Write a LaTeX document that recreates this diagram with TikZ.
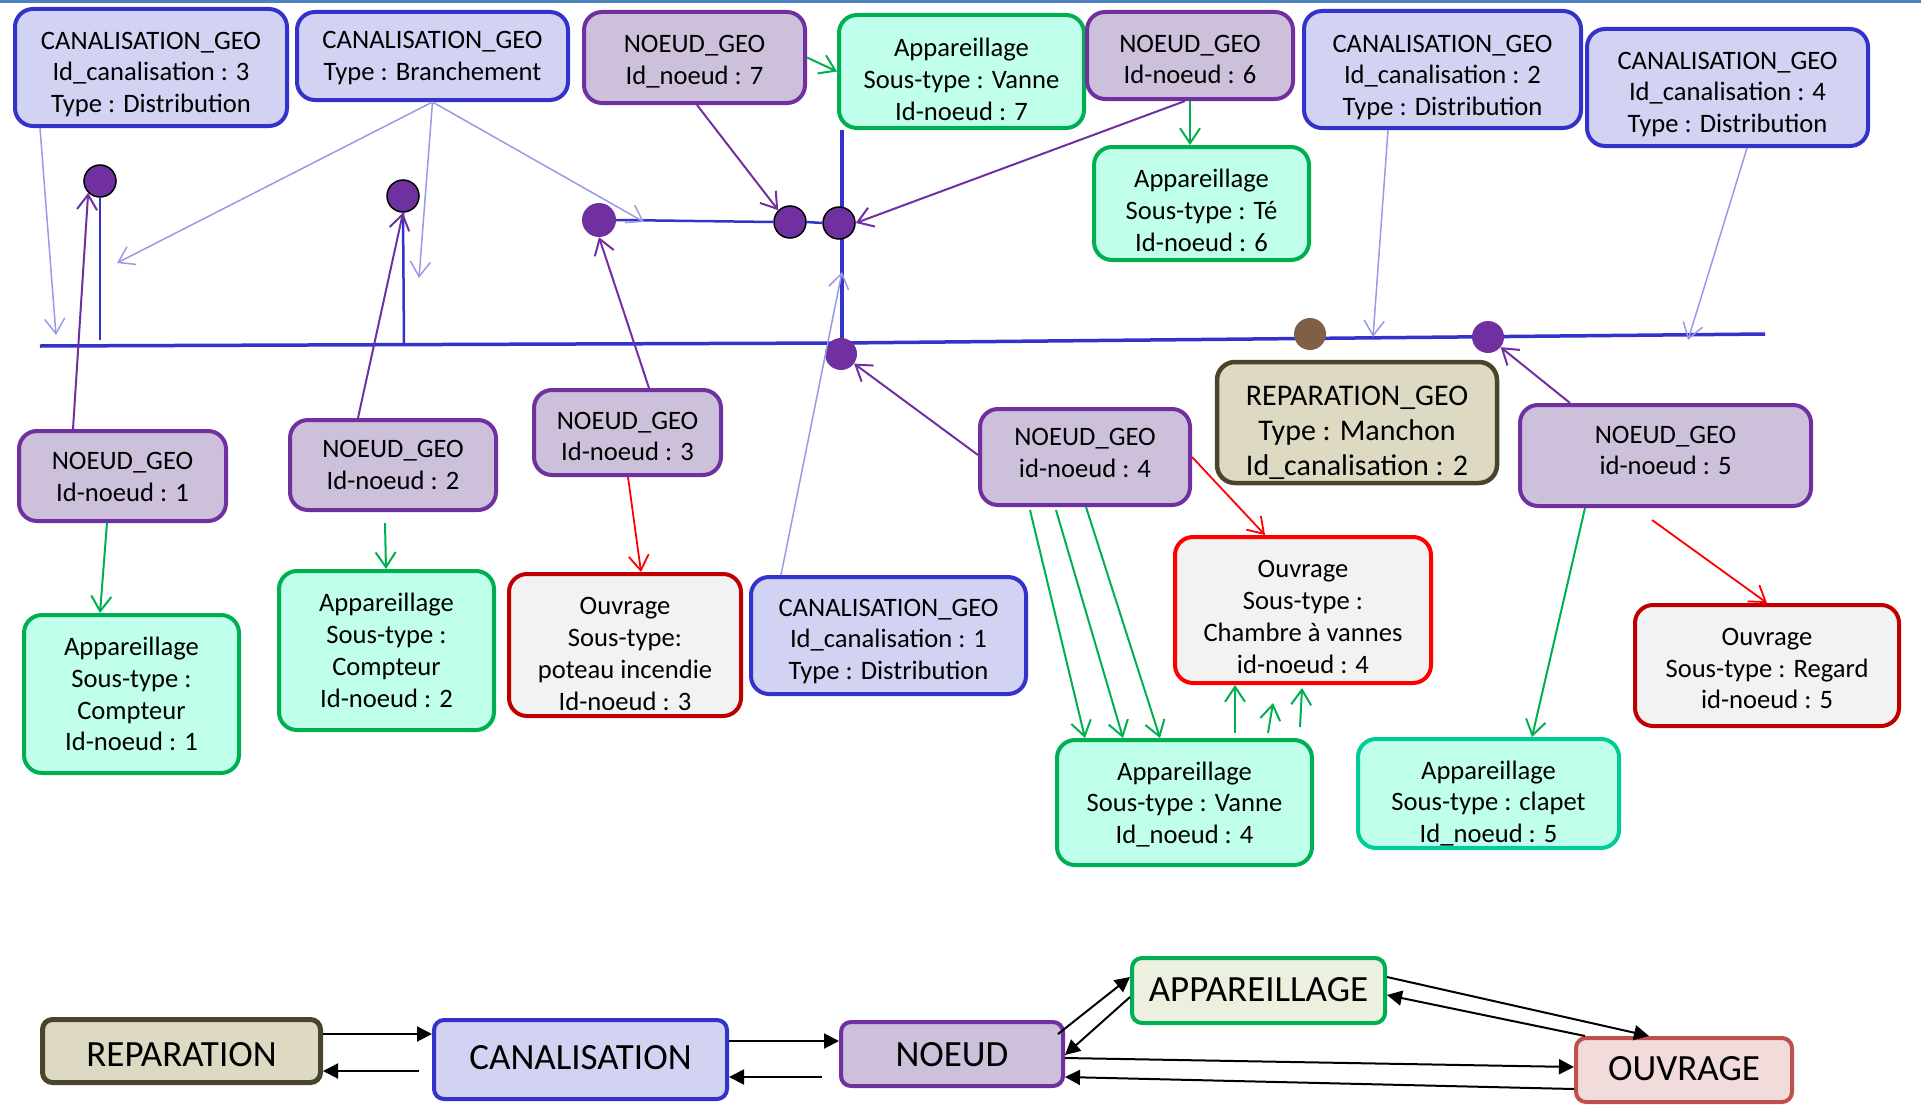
\documentclass[tikz,border=0pt]{standalone}
\usepackage{fontspec}
\setmainfont{Carlito}
\usetikzlibrary{arrows.meta,calc}
\definecolor{canfill}{RGB}{210,210,243}
\definecolor{candraw}{RGB}{51,51,204}
\definecolor{noefill}{RGB}{204,192,218}
\definecolor{noedraw}{RGB}{112,48,160}
\definecolor{appfill}{RGB}{192,255,236}
\definecolor{appdraw}{RGB}{0,176,80}
\definecolor{tealdraw}{RGB}{0,204,153}
\definecolor{ouvfill}{RGB}{242,242,242}
\definecolor{ouvdark}{RGB}{192,0,0}
\definecolor{ouvred}{RGB}{255,0,0}
\definecolor{repfill}{RGB}{221,217,195}
\definecolor{repdraw}{RGB}{74,69,42}
\definecolor{lbl}{RGB}{153,153,230}
\definecolor{browndot}{RGB}{127,95,70}
\definecolor{topband}{RGB}{79,129,189}
\definecolor{bappfill}{RGB}{235,241,222}
\definecolor{bouvfill}{RGB}{242,220,219}
\definecolor{bouvdraw}{RGB}{192,80,77}
\begin{document}
\begin{tikzpicture}[x=1pt,y=-1pt,
  box/.style={rectangle, rounded corners=18pt, line width=4pt, inner sep=0pt},
  canal/.style={box, draw=candraw, fill=canfill},
  noeud/.style={box, draw=noedraw, fill=noefill},
  appar/.style={box, draw=appdraw, fill=appfill},
  ouvr/.style={box, draw=ouvdark, fill=ouvfill},
  repa/.style={box, draw=repdraw, fill=repfill, line width=4.5pt},
  sz/.style 2 args={minimum width=#1pt, minimum height=#2pt},
  tx/.style={align=center, inner sep=0pt, font=\fontsize{26.6}{31.8}\selectfont},
  rtx/.style={align=center, inner sep=0pt, font=\fontsize{30}{35}\selectfont},
  btx/.style={inner sep=0pt, font=\fontsize{37}{40}\selectfont},
  big/.style={rectangle, rounded corners=10pt, line width=4pt, inner sep=0pt},
  dot/.style={circle, fill=noedraw, minimum size=32pt, inner sep=0pt},
  odot/.style={dot, draw=black, line width=1.5pt},
  pipe/.style={draw=candraw, line width=2.5pt},
  barb/.style={-{Straight Barb[length=15pt,width=20pt]}},
  lb/.style={barb, draw=lbl, line width=1.5pt},
  pu/.style={barb, draw=noedraw, line width=2pt},
  gr/.style={barb, draw=appdraw, line width=2pt},
  rd/.style={barb, draw=ouvred, line width=1.8pt},
  bk/.style={-{Triangle[length=15pt,width=15pt]}, draw=black, line width=2pt},
]
\useasboundingbox (0,0) rectangle (1921,1108);
\fill[topband] (0,0) rectangle (1921,3);

% top row
\node[canal, sz={272}{117}] (c3) at (151,67.5) {};
\node[tx] (c3t) at ([shift={(0,7)}]c3.center) {CANALISATION\_GEO\\Id\_canalisation : 3\\Type : Distribution};
\node[canal, sz={271}{88}] (cb) at (432.5,56) {};
\node[tx] (cbt) at ([shift={(0,2)}]cb.center) {CANALISATION\_GEO\\Type : Branchement};
\node[noeud, sz={221}{91}] (n7) at (694.5,57.5) {};
\node[tx] (n7t) at ([shift={(0,4)}]n7.center) {NOEUD\_GEO\\Id\_noeud : 7};
\node[appar, sz={245}{113}] (av7) at (961.5,71.5) {};
\node[tx] (av7t) at ([shift={(0,8)}]av7.center) {Appareillage\\Sous-type : Vanne\\Id-noeud : 7};
\node[noeud, sz={206}{87}] (n6) at (1190,55.5) {};
\node[tx] (n6t) at ([shift={(0,4)}]n6.center) {NOEUD\_GEO\\Id-noeud : 6};
\node[appar, sz={215}{113}] (ate) at (1201.5,203.5) {};
\node[tx] (atet) at ([shift={(0,7)}]ate.center) {Appareillage\\Sous-type : Té\\Id-noeud : 6};
\node[canal, sz={277}{117}] (c2) at (1442.5,69.5) {};
\node[tx] (c2t) at ([shift={(0,8)}]c2.center) {CANALISATION\_GEO\\Id\_canalisation : 2\\Type : Distribution};
\node[canal, sz={281}{117}] (c4) at (1727.5,87.5) {};
\node[tx] (c4t) at ([shift={(0,7)}]c4.center) {CANALISATION\_GEO\\Id\_canalisation : 4\\Type : Distribution};

% middle row
\node[noeud, sz={207}{90}] (n1) at (122.5,476) {};
\node[tx] (n1t) at ([shift={(0,1)}]n1.center) {NOEUD\_GEO\\Id-noeud : 1};
\node[noeud, sz={206}{90}] (n2) at (393,465) {};
\node[tx] (n2t) at (n2.center) {NOEUD\_GEO\\Id-noeud : 2};
\node[noeud, sz={187}{85}] (n3) at (627.5,432.5) {};
\node[tx] (n3t) at ([shift={(0,4)}]n3.center) {NOEUD\_GEO\\Id-noeud : 3};
\node[noeud, sz={210}{96}] (n4) at (1085,457) {};
\node[tx] (n4t) at ([shift={(0,-4)}]n4.center) {NOEUD\_GEO\\id-noeud : 4};
\node[repa, sz={280}{121}] (rep) at (1357,422.5) {};
\node[rtx] (rept) at ([shift={(0,10)}]rep.center) {REPARATION\_GEO\\Type : Manchon\\Id\_canalisation : 2};
\node[noeud, sz={291}{101}] (n5) at (1665.5,455.5) {};
\node[tx] (n5t) at ([shift={(0,-5)}]n5.center) {NOEUD\_GEO\\id-noeud : 5};

% lower row
\node[appar, sz={215}{158}] (a1) at (131.5,694) {};
\node[tx] (a1t) at (a1.center) {Appareillage\\Sous-type :\\Compteur\\Id-noeud : 1};
\node[appar, sz={215}{159}] (a2) at (386.5,650.5) {};
\node[tx] (a2t) at (a2.center) {Appareillage\\Sous-type :\\Compteur\\Id-noeud : 2};
\node[ouvr, sz={232}{142}] (o3) at (625,645) {};
\node[tx] (o3t) at ([shift={(0,9)}]o3.center) {Ouvrage\\Sous-type:\\poteau incendie\\Id-noeud : 3};
\node[canal, sz={275}{117}] (c1) at (888.5,635.5) {};
\node[tx] (c1t) at ([shift={(0,6)}]c1.center) {CANALISATION\_GEO\\Id\_canalisation : 1\\Type : Distribution};
\node[ouvr, draw=ouvred, sz={256}{146}] (o4) at (1303,610) {};
\node[tx] (o4t) at ([shift={(0,7)}]o4.center) {Ouvrage\\Sous-type :\\Chambre à vannes\\id-noeud : 4};
\node[appar, sz={255}{125}] (av4) at (1184.5,802.5) {};
\node[tx] (av4t) at ([shift={(0,2)}]av4.center) {Appareillage\\Sous-type : Vanne\\Id\_noeud : 4};
\node[appar, draw=tealdraw, sz={261}{109}] (a5) at (1488.5,793.5) {};
\node[tx] (a5t) at ([shift={(0,10)}]a5.center) {Appareillage\\Sous-type : clapet\\Id\_noeud : 5};
\node[ouvr, sz={264}{121}] (o5) at (1767,665.5) {};
\node[tx] (o5t) at ([shift={(0,3)}]o5.center) {Ouvrage\\Sous-type : Regard\\id-noeud : 5};

% bottom legend
\node[big, draw=repdraw, fill=repfill, line width=5pt, sz={278}{63}] (bR) at (181.5,1051) {};
\node[btx] (bRt) at ([shift={(0,4)}]bR.center) {REPARATION};
\node[big, draw=candraw, fill=canfill, sz={293}{79}] (bC) at (580.5,1059.5) {};
\node[btx] (bCt) at ([shift={(0,-2)}]bC.center) {CANALISATION};
\node[big, draw=noedraw, fill=noefill, sz={222}{64}] (bN) at (952,1054) {};
\node[btx] (bNt) at ([shift={(0,1)}]bN.center) {NOEUD};
\node[big, draw=appdraw, fill=bappfill, sz={253}{65}] (bA) at (1258.5,990.5) {};
\node[btx] (bAt) at ([shift={(0,-1)}]bA.center) {APPAREILLAGE};
\node[big, draw=bouvdraw, fill=bouvfill, sz={216}{64}] (bO) at (1684,1070) {};
\node[btx] (bOt) at ([shift={(0,-1)}]bO.center) {OUVRAGE};

% pipes
\coordinate (M0) at (40,346);
\coordinate (MJ) at (842,343);
\coordinate (M1) at (1765,334);
\coordinate (P1) at (100,340);
\coordinate (P2) at (404,345);
\draw[pipe, line width=3.5pt] (M0) -- (MJ) -- (M1);
\draw[pipe, line width=4.5pt] (MJ |- av7.south) -- (MJ);

% dots
\node[odot] (d1) at (100,181) {};
\node[odot] (d2) at (403,196) {};
\node[dot, minimum size=34pt] (d3) at (599,220) {};
\node[odot] (d4) at (790,222) {};
\node[odot] (d5) at (839,223) {};
\node[dot] (d6) at (841,354) {};
\node[dot, fill=browndot] (db) at (1310,334) {};
\node[dot] (d7) at (1488,337) {};

\draw[pipe] (d1.south) -- (P1);
\draw[pipe] (d2.south) -- (P2);
\draw[pipe] (d3.east) -- (d4.west);
\draw[pipe] (d4.east) -- (d5.west);

% light blue connectors
\coordinate (L1) at (56,335);
\coordinate (L2) at (117,263);
\coordinate (L3) at (419,278);
\coordinate (L4) at (644,222);
\coordinate (L5) at (842,272);
\coordinate (L6) at (1373,337);
\coordinate (L7) at (1688,340);
\draw[lb] ([xshift=-111pt]c3.south) -- (L1);
\draw[lb] (cb.south) -- (L2);
\draw[lb] (cb.south) -- (L3);
\draw[lb] (cb.south) -- (L4);
\draw[lb] ([xshift=-107.5pt]c1.north) -- (L5);
\draw[lb] ([xshift=-54.5pt]c2.south) -- (L6);
\draw[lb] ([xshift=19.5pt]c4.south) -- (L7);

% purple connectors
\draw[pu] ([xshift=-49.5pt]n1.north) -- (d1.south west);
\draw[pu] ([xshift=-35pt]n2.north) -- (d2.south);
\draw[pu] ([xshift=21.5pt]n3.north) -- (d3.south);
\draw[pu] ([xshift=2.5pt]n7.south) -- (d4.north west);
\draw[pu] ([xshift=-5pt]n6.south) -- (d5.east);
\draw[pu] ([shift={(0,-2)}]n4.west) -- (d6);
\draw[pu] ([xshift=-95.5pt]n5.north) -- (d7);

% green connectors
\draw[gr] (n7.east) -- (av7.west);
\draw[gr] (n6.south) -- (n6.south |- ate.north);
\draw[gr] ([xshift=-15.5pt]n1.south) -- ([xshift=-31.5pt]a1.north);
\draw[gr] ([shift={(-8,11)}]n2.south) -- ([xshift=-0.5pt]a2.north);
\draw[gr] ([shift={(-55,3)}]n4.south) -- ([xshift=-99.5pt]av4.north);
\draw[gr] ([shift={(-29,3)}]n4.south) -- ([xshift=-61.5pt]av4.north);
\draw[gr] ([xshift=1pt]n4.south) -- ([xshift=-24.5pt]av4.north);
\draw[gr] ([shift={(50.5,-5)}]av4.north) -- ([xshift=-68pt]o4.south);
\draw[gr] ([shift={(83.5,-5)}]av4.north) -- ([shift={(-30,18)}]o4.south);
\draw[gr] ([shift={(115.5,-11)}]av4.north) -- ([shift={(-1,3)}]o4.south);
\draw[gr] ([xshift=-80.5pt]n5.south) -- ([xshift=43.5pt]a5.north);

% red connectors
\draw[rd] ([xshift=0.5pt]n3.south) -- ([xshift=16pt]o3.north);
\draw[rd] (n4.east) -- ([xshift=-38pt]o4.north);
\draw[rd] ([shift={(-13.5,12)}]n5.south) -- (o5.north);

% legend connectors
\draw[bk] ([shift={(0,-17)}]bR.east) -- ([shift={(0,-25.5)}]bC.west);
\draw[bk] ([shift={(-13,11.5)}]bC.west) -- ([shift={(0,20)}]bR.east);
\draw[bk] ([shift={(0,-18.5)}]bC.east) -- ([shift={(0,-13)}]bN.west);
\draw[bk] ([shift={(-17,23)}]bN.west) -- ([shift={(0,17.5)}]bC.east);
\draw[bk] ([shift={(-7,-20)}]bN.east) -- ([shift={(0,-13.5)}]bA.west);
\draw[bk] ([shift={(0,6.5)}]bA.west) -- ([shift={(0,1)}]bN.east);
\draw[bk] ([shift={(0,-13.5)}]bA.east) -- ([xshift=-35pt]bO.north);
\draw[bk] ([xshift=-99pt]bO.north) -- ([shift={(0,4.5)}]bA.east);
\draw[bk] ([shift={(0,4)}]bN.east) -- ([shift={(0,-3)}]bO.west);
\draw[bk] ([shift={(0,19)}]bO.west) -- ([shift={(0,23)}]bN.east);
\end{tikzpicture}
\end{document}
